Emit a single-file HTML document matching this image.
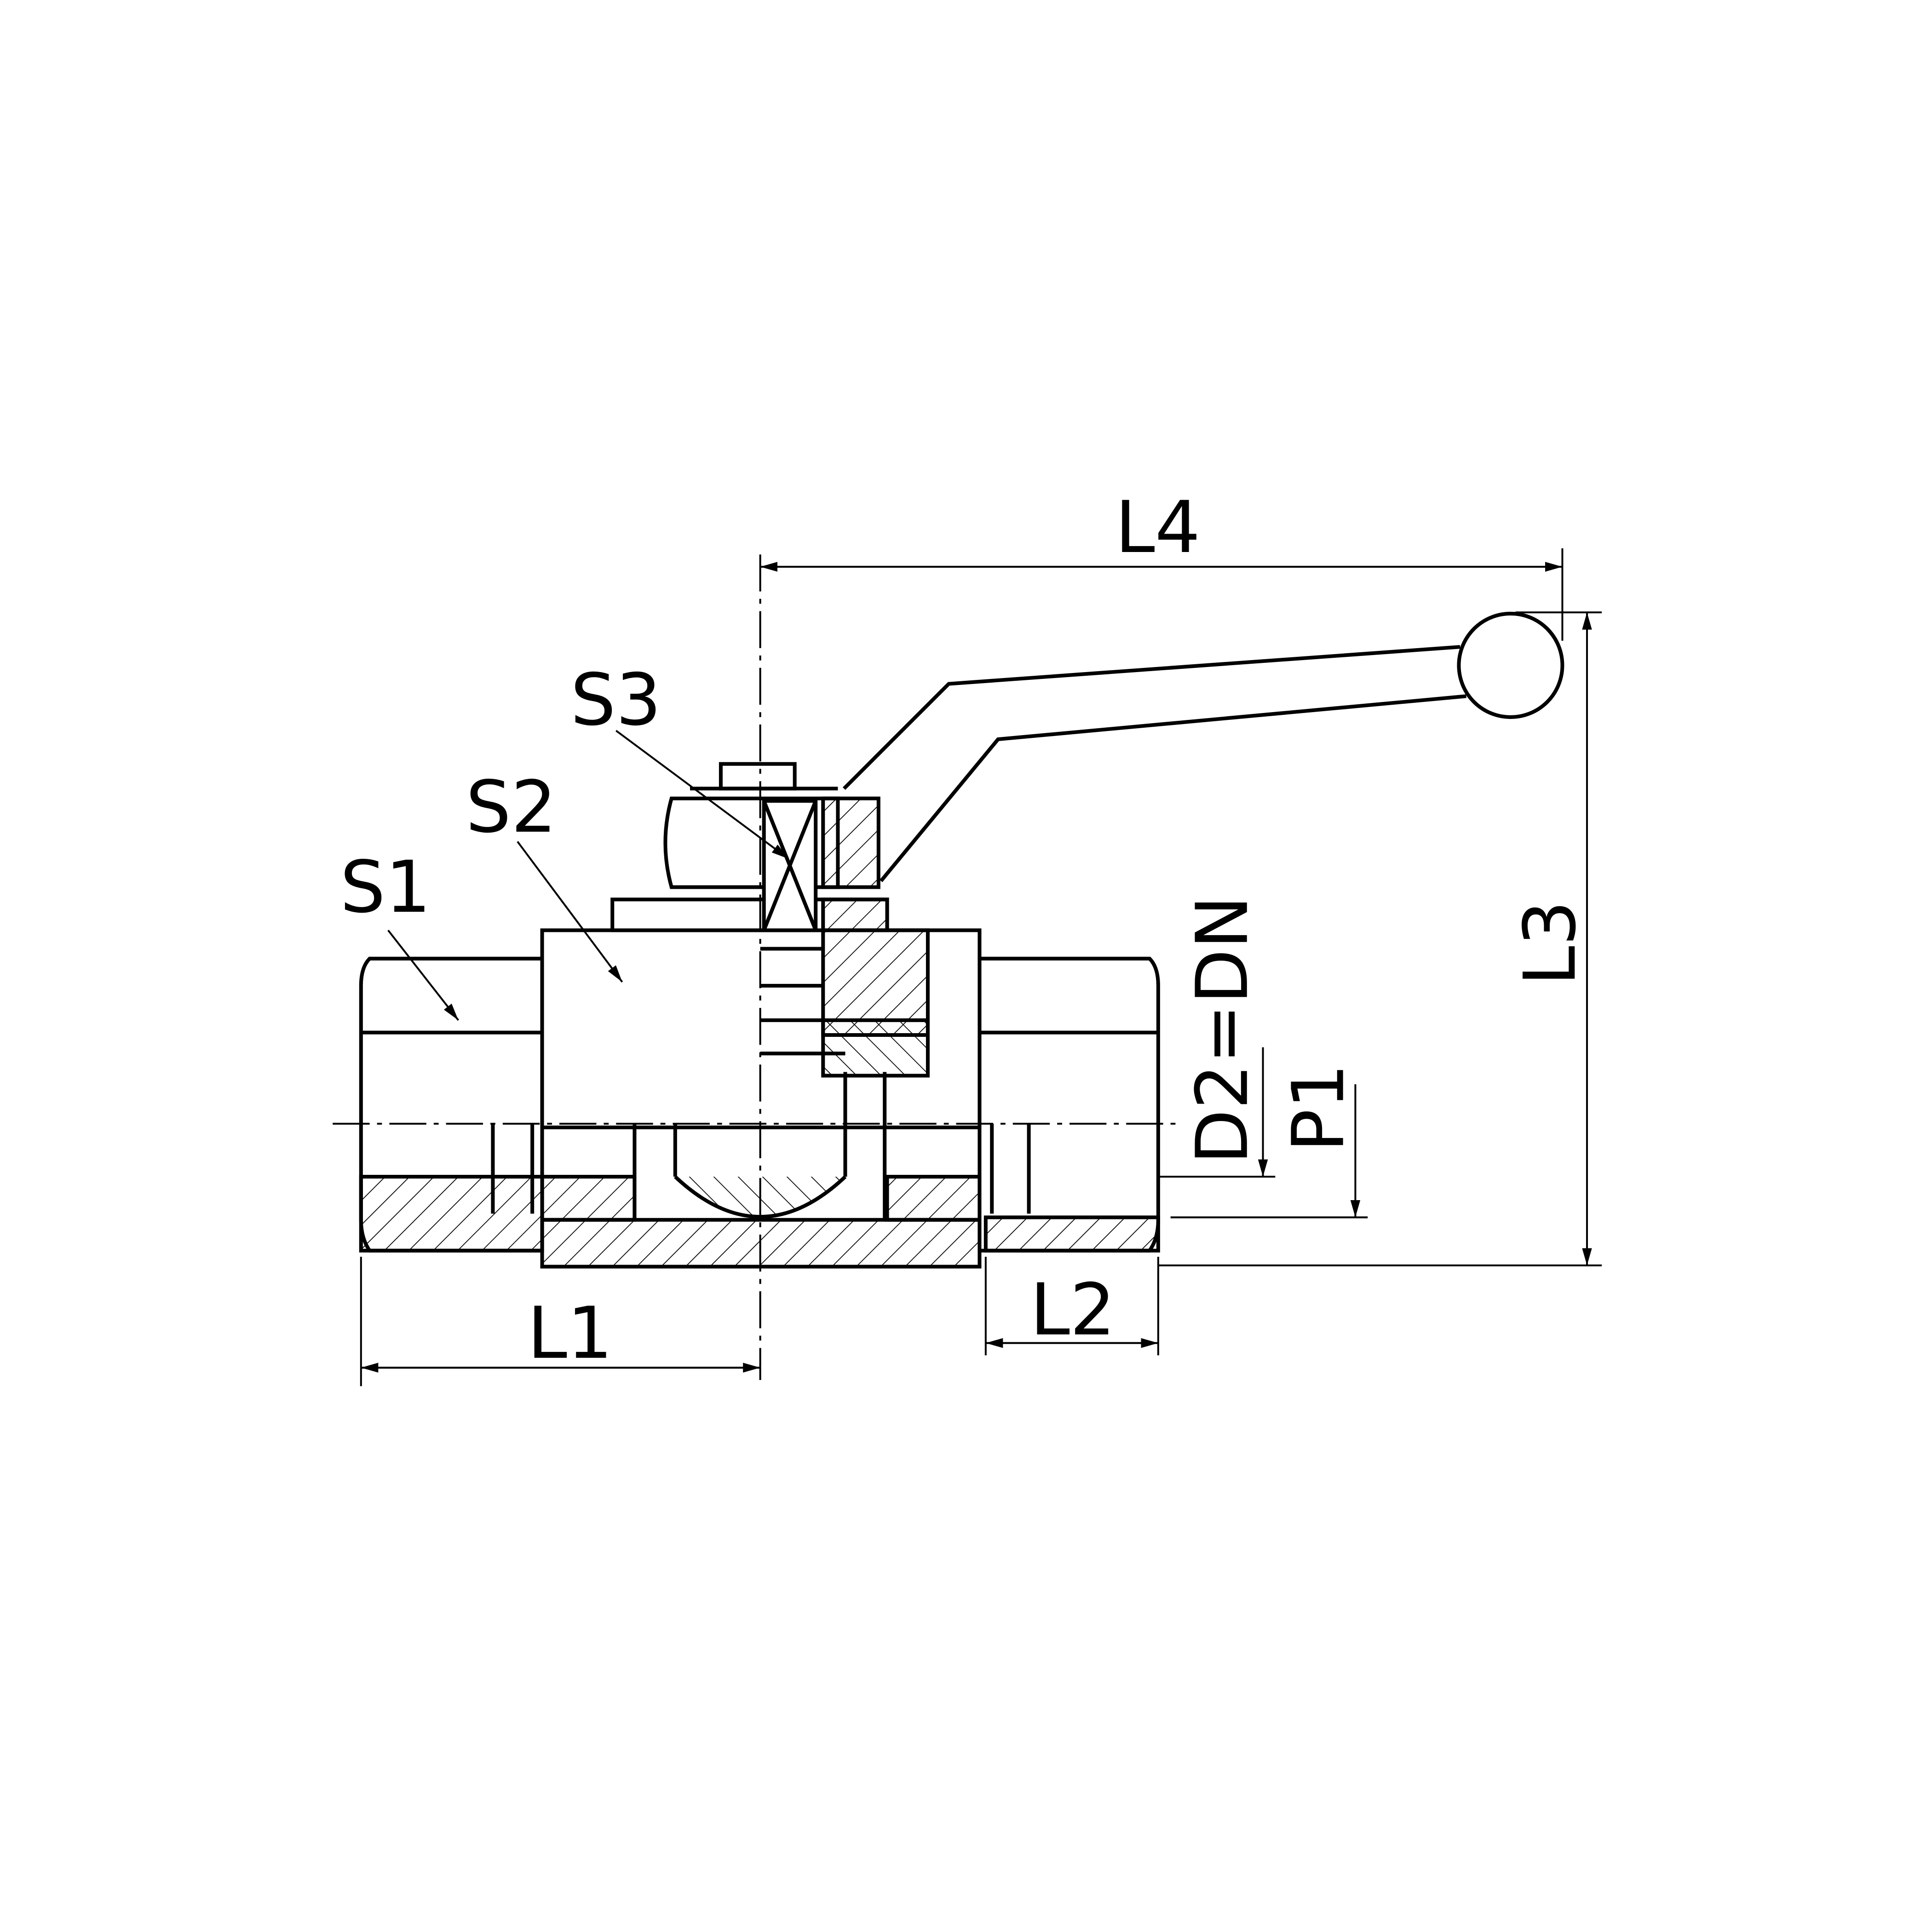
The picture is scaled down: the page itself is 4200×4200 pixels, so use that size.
<!DOCTYPE html>
<html><head><meta charset="utf-8"><style>
html,body{margin:0;padding:0;background:#fff;}
svg{display:block;}
text{font-family:"DejaVu Sans","Liberation Sans",sans-serif;fill:#000;}
</style></head><body>
<svg width="4200" height="4200" viewBox="0 0 1568 1568" xmlns="http://www.w3.org/2000/svg">
<defs>
<pattern id="h" patternUnits="userSpaceOnUse" width="14" height="14" patternTransform="rotate(45)">
<line x1="0" y1="0" x2="0" y2="14" stroke="#000" stroke-width="1.3"/></pattern>
<pattern id="h2" patternUnits="userSpaceOnUse" width="14" height="14" patternTransform="rotate(-45)">
<line x1="0" y1="0" x2="0" y2="14" stroke="#000" stroke-width="1.3"/></pattern>
<marker id="a" markerWidth="14" markerHeight="8" refX="14" refY="4" orient="auto" markerUnits="userSpaceOnUse">
<path d="M0,0 L14,4 L0,8 z" fill="#000"/></marker>
</defs>
<g fill="none" stroke="#000" stroke-width="3">
<!-- left hex end -->
<path d="M300,778 L440,778 L440,1015 L300,1015 Q293,1005 293,990 L293,800 Q293,785 300,778 z" fill="#fff"/>
<line x1="293" y1="838" x2="440" y2="838"/>
<rect x="293" y="955" width="147" height="60" fill="url(#h)"/>
<line x1="400" y1="912" x2="400" y2="985"/><line x1="432" y1="912" x2="432" y2="985"/>
<!-- right end -->
<path d="M795,778 L933,778 Q940,785 940,800 L940,990 Q940,1005 933,1015 L795,1015 z" fill="#fff"/>
<line x1="795" y1="838" x2="940" y2="838"/>
<rect x="800" y="988" width="140" height="27" fill="url(#h)"/>
<line x1="805" y1="912" x2="805" y2="985"/><line x1="835" y1="912" x2="835" y2="985"/>
<!-- center body -->
<rect x="440" y="755" width="355" height="160" fill="#fff"/>
<rect x="440" y="990" width="355" height="38" fill="url(#h)"/>
<rect x="440" y="955" width="75" height="35" fill="url(#h)"/>
<rect x="720" y="955" width="75" height="35" fill="url(#h)"/>
<path d="M548,955 Q617,1020 686,955" fill="url(#h2)"/>
<line x1="515" y1="912" x2="515" y2="990"/><line x1="548" y1="912" x2="548" y2="955"/>
<line x1="686" y1="870" x2="686" y2="955"/><line x1="718" y1="870" x2="718" y2="990"/>
<rect x="668" y="755" width="85" height="85" fill="url(#h)"/>
<rect x="668" y="828" width="85" height="45" fill="url(#h2)"/>
<line x1="617" y1="770" x2="668" y2="770"/><line x1="617" y1="800" x2="668" y2="800"/>
<line x1="617" y1="828" x2="668" y2="828"/><line x1="617" y1="855" x2="686" y2="855"/>
<!-- stem -->
<rect x="497" y="730" width="223" height="25" fill="#fff"/>
<rect x="668" y="730" width="52" height="25" fill="url(#h)"/>
<path d="M545,648 L680,648 L680,720 L545,720 Q535,684 545,648 z" fill="#fff"/>
<rect x="668" y="648" width="45" height="72" fill="url(#h)"/>
<rect x="620" y="650" width="42" height="105" fill="#fff"/>
<line x1="620" y1="650" x2="662" y2="755"/><line x1="662" y1="650" x2="620" y2="755"/>
<rect x="585" y="620" width="60" height="20" fill="#fff"/>
<line x1="560" y1="640" x2="680" y2="640"/>
<!-- handle -->
<path d="M685,640 L770,555 L1185,525"/>
<path d="M715,715 L810,600 L1190,565"/>
<circle cx="1226" cy="540" r="42" fill="#fff"/>
</g>
<g stroke="#000" stroke-width="1.5" fill="none">
<line x1="270" y1="912" x2="960" y2="912" stroke-dasharray="30,6,4,6"/>
<line x1="617" y1="450" x2="617" y2="1120" stroke-dasharray="30,6,4,6"/>
<line x1="617" y1="460" x2="1268" y2="460" marker-end="url(#a)"/>
<line x1="1268" y1="460" x2="617" y2="460" marker-end="url(#a)"/>
<line x1="1268" y1="445" x2="1268" y2="520"/>
<line x1="1230" y1="497" x2="1300" y2="497"/>
<line x1="940" y1="1027" x2="1300" y2="1027"/>
<line x1="1288" y1="497" x2="1288" y2="1027" marker-end="url(#a)"/>
<line x1="1288" y1="1027" x2="1288" y2="497" marker-end="url(#a)"/>
<line x1="293" y1="1020" x2="293" y2="1125"/>
<line x1="293" y1="1110" x2="617" y2="1110" marker-end="url(#a)"/>
<line x1="617" y1="1110" x2="293" y2="1110" marker-end="url(#a)"/>
<line x1="800" y1="1020" x2="800" y2="1100"/><line x1="940" y1="1020" x2="940" y2="1100"/>
<line x1="800" y1="1090" x2="940" y2="1090" marker-end="url(#a)"/>
<line x1="940" y1="1090" x2="800" y2="1090" marker-end="url(#a)"/>
<line x1="940" y1="955" x2="1035" y2="955"/>
<line x1="950" y1="988" x2="1110" y2="988"/>
<line x1="1025" y1="850" x2="1025" y2="955" marker-end="url(#a)"/>
<line x1="1100" y1="880" x2="1100" y2="988" marker-end="url(#a)"/>
<line x1="315" y1="755" x2="372" y2="828" marker-end="url(#a)"/>
<line x1="420" y1="683" x2="505" y2="797" marker-end="url(#a)"/>
<line x1="500" y1="593" x2="640" y2="697" marker-end="url(#a)"/>
</g>
<g font-size="58">
<text x="276" y="740">S1</text>
<text x="378" y="675">S2</text>
<text x="463" y="588">S3</text>
<text x="905" y="448">L4</text>
<text x="428" y="1102">L1</text>
<text x="836" y="1083">L2</text>
<text transform="translate(1278,800) rotate(-90)">L3</text>
<text transform="translate(1012,945) rotate(-90)">D2=DN</text>
<text transform="translate(1090,935) rotate(-90)">P1</text>
</g>
</svg>
</body></html>
